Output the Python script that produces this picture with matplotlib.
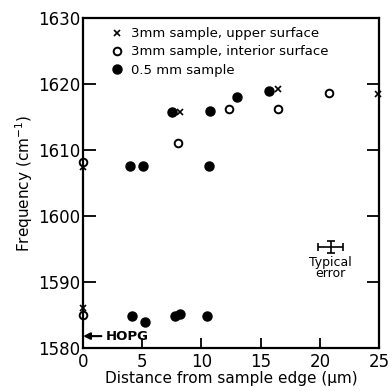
import matplotlib.pyplot as plt

# 3mm sample, upper surface (x markers)
upper_x = [0.0, 0.0, 8.2, 16.5, 24.9]
upper_y = [1607.4, 1586.0, 1615.8, 1619.2, 1618.5]

# 3mm sample, interior surface (open circles)
interior_x = [0.0, 0.0, 8.0, 12.3, 16.5, 20.8]
interior_y = [1608.2, 1585.0, 1611.1, 1616.2, 1616.2, 1618.6]

# 0.5mm sample (filled circles)
thin_x = [4.0, 5.1, 10.6, 7.5, 10.7, 13.0, 15.7, 4.1, 5.2, 7.8, 8.2, 10.5]
thin_y = [1607.5, 1607.5, 1607.6, 1615.8, 1615.9, 1618.0, 1618.9,
          1584.8, 1583.9, 1584.8, 1585.2, 1584.8]

hopg_y = 1581.8
err_x, err_y = 20.9, 1595.3
err_dx, err_dy = 1.05, 0.9

fig = plt.figure(figsize=(3.92, 3.91), dpi=100)
ax = fig.add_axes([0.212, 0.110, 0.755, 0.844])

ax.plot(upper_x, upper_y, 'x', color='black', markersize=4, mew=1.2,
        label='3mm sample, upper surface', clip_on=False)
ax.plot(interior_x, interior_y, 'o', mfc='white', mec='black', markersize=5.5,
        mew=1.4, label='3mm sample, interior surface', clip_on=False)
ax.plot(thin_x, thin_y, 'o', color='black', markersize=6.5,
        label='0.5 mm sample', clip_on=False)

# typical error bar
ax.errorbar([err_x], [err_y], xerr=[err_dx], yerr=[err_dy], fmt='none',
            ecolor='black', elinewidth=1.2, capsize=3, capthick=1.2)
ax.text(err_x, err_y - 1.3, 'Typical\nerror', ha='center', va='top',
        fontsize=9, linespacing=0.85)

# HOPG arrow
ax.annotate('HOPG', xy=(0, hopg_y), xytext=(1.9, hopg_y), va='center',
            fontsize=9.5, fontweight='bold',
            arrowprops=dict(arrowstyle='-|>', color='black', lw=1.5,
                            shrinkA=1, shrinkB=0, mutation_scale=10))

ax.set_xlim(0, 25)
ax.set_ylim(1580, 1630)
ax.set_xticks([0, 5, 10, 15, 20, 25])
ax.set_yticks([1580, 1590, 1600, 1610, 1620, 1630])
ax.tick_params(direction='in', length=9, width=1.3, labelsize=12, pad=2,
               right=True, labelright=False)
ax.tick_params(axis='x', length=7, pad=3.5)
for s in ax.spines.values():
    s.set_linewidth(1.6)

ax.set_xlabel('Distance from sample edge (μm)', fontsize=11, labelpad=0)
ax.set_ylabel('Frequency (cm$^{-1}$)', fontsize=11, labelpad=2)

ax.legend(loc='upper left', frameon=False, fontsize=9.5, handletextpad=0.3,
          borderaxespad=0.3, labelspacing=0.4, handlelength=1.5,
          bbox_to_anchor=(0.05, 1.0))

fig.savefig('out.png', dpi=100)
